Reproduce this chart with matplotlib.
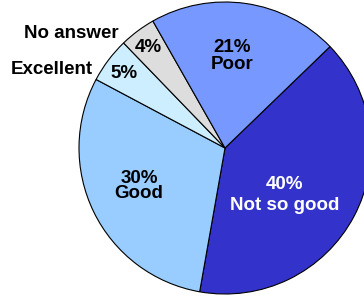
import matplotlib.pyplot as plt

labels = ["Not so good", "Good", "Excellent", "No answer", "Poor"]
values = [40, 30, 5, 4, 21]
colors = ["#3333CC", "#99CCFF", "#CCEEFF", "#DDDDDD", "#7799FF"]

plt.rcParams['font.family'] = ['Liberation Sans', 'DejaVu Sans']

fig = plt.figure(figsize=(3.64, 2.99), dpi=100)
ax = fig.add_axes([0, 0, 1, 1])

ax.pie(values, colors=colors, startangle=44, counterclock=False,
       center=(225, 151), radius=146,
       wedgeprops=dict(edgecolor='black', linewidth=0.8))
ax.set_xlim(0, 364)
ax.set_ylim(0, 299)
ax.axis('off')

kw = dict(ha='center', va='center', fontsize=13.5, fontweight='bold')
# labels inside the slices (y measured up from bottom)
ax.text(285, 104, "40%\nNot so good", color='white', linespacing=1.3, **kw)
ax.text(139, 113, "30%\nGood", color='black', linespacing=0.8, **kw)
ax.text(232, 243, "21%\nPoor", color='black', linespacing=0.98, **kw)
ax.text(124, 225, "5%", color='black', **kw)
ax.text(148, 252, "4%", color='black', **kw)
# labels outside
ax.text(71, 265, "No answer", color='black', **kw)
ax.text(52, 230, "Excellent", color='black', **kw)

fig.savefig("out.png", dpi=100)
